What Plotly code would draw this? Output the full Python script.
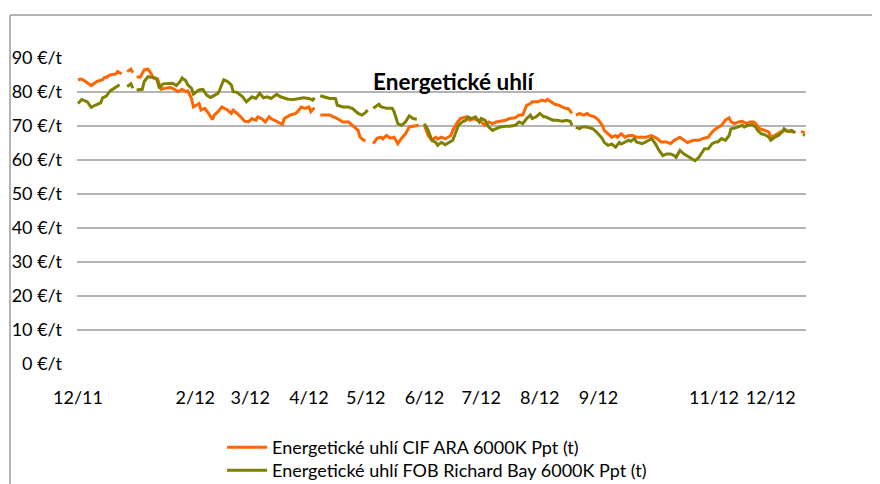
import plotly.graph_objects as go
import pandas as pd

START = pd.Timestamp("2011-12-01")

# Energetické uhlí CIF ARA 6000K Ppt (t) — days since START, value in €/t (None = missing)
cif_days = [0, 2, 4, 7, 10, 13, 14, 15, 17, 20, 21, 23, 25, 26, 28, 29, 30, 31, 33, 35,
            37, 38, 40, 42, 44, 46, 49, 51, 53, 55, 57, 58, 60, 61, 64, 65, 67, 69, 71, 72,
            74, 76, 79, 81, 82, 84, 86, 88, 90, 92, 94, 95, 97, 99, 101, 102, 104, 106, 108, 109,
            112, 115, 116, 118, 120, 122, 123, 124, 125, 127, 128, 130, 133, 135, 137, 140, 143, 145, 146, 148,
            149, 151, 152, 154, 156, 158, 160, 161, 163, 165, 167, 169, 171, 173, 174, 175, 177, 180, 182, 183,
            185, 187, 189, 190, 192, 194, 197, 198, 200, 202, 204, 205, 207, 209, 211, 213, 215, 217, 219, 221,
            223, 226, 228, 231, 233, 235, 237, 239, 240, 243, 245, 247, 248, 250, 252, 254, 256, 257, 259, 261,
            262, 263, 265, 267, 269, 270, 273, 275, 277, 278, 280, 282, 284, 285, 287, 289, 291, 293, 295, 298,
            300, 303, 306, 308, 311, 313, 315, 318, 320, 322, 325, 328, 330, 333, 335, 337, 340, 342, 344, 345,
            347, 349, 351, 353, 355, 357, 358, 360, 363, 365, 366, 368, 371, 373, 376, 378, 380, 382, 384]
cif_vals = [83.6, 83.8, 83.1, 81.9, 83.1, 83.6, 84.3, 84.3, 85.0, 85.3, 86.0, 85.3, None, 86.0, 86.7, 85.7, None, 84.4, 84.4, 86.5,
            86.7, 86.0, 84.1, 83.9, 80.8, 81.1, 81.3, 80.8, 80.1, 80.8, 80.1, 80.3, 78.1, 75.6, 76.6, 74.7, 75.2, 73.7, 71.9, 73.2,
            74.2, 75.6, 74.7, 73.7, 74.7, 73.7, 72.7, 71.4, 71.2, 72.2, 71.7, 72.7, 72.2, 71.2, 72.7, 72.2, 71.7, 71.2, 70.5, 72.2,
            73.2, 73.7, 74.2, 75.6, 75.2, 75.6, 74.2, 74.9, 75.3, None, 73.2, 73.2, 73.2, 72.7, 72.2, 71.2, 71.2, 70.2, 69.7, 68.7,
            66.7, 65.8, 65.8, None, 64.8, 66.4, 66.7, 66.2, 67.2, 66.4, 66.7, 64.8, 66.4, 67.7, 68.7, 69.7, 69.9, 70.2, None, 70.2,
            67.2, 65.8, 66.7, 66.2, 66.7, 66.2, 67.2, 68.7, 70.7, 72.2, 72.4, 72.7, 71.7, 72.2, 71.7, 71.2, 70.2, 71.2, 70.7, 71.2,
            71.4, 71.7, 72.2, 72.4, 73.2, 73.2, 76.1, 76.6, 77.1, 77.1, 77.6, 77.3, 77.8, 77.1, 76.4, 76.1, 75.6, 75.3, 75.1, 73.7,
            None, 73.2, 73.7, 73.2, 73.7, 73.2, 72.7, 71.7, 70.2, 68.7, 67.7, 66.7, 67.2, 66.7, 67.7, 66.7, 67.2, 67.2, 66.7, 66.7,
            66.7, 67.2, 66.3, 65.3, 65.3, 64.8, 65.8, 66.7, 65.8, 65.1, 65.8, 65.8, 66.3, 66.7, 68.2, 69.2, 70.2, 71.7, 72.4, 71.2,
            70.7, 71.2, 71.4, 70.7, 71.2, 71.2, 70.7, 69.2, 68.7, 68.2, 66.7, 67.2, 68.2, 68.7, 68.4, 68.2, None, 68.4, 68.0]

# Energetické uhlí FOB Richard Bay 6000K Ppt (t)
fob_days = [0, 2, 5, 7, 9, 12, 13, 15, 17, 20, 22, 24, 26, 28, 29, 30, 31, 34, 35, 37,
            39, 41, 42, 43, 45, 48, 50, 52, 54, 55, 57, 58, 60, 61, 64, 66, 68, 70, 72, 74,
            75, 77, 79, 81, 82, 84, 87, 89, 90, 92, 94, 95, 96, 98, 100, 102, 103, 105, 107, 109,
            111, 114, 117, 119, 122, 124, 125, 127, 128, 130, 133, 136, 137, 140, 143, 144, 145, 146, 148, 150,
            152, 153, 154, 156, 159, 160, 163, 166, 167, 169, 171, 173, 174, 175, 177, 179, 181, 183, 185, 187,
            189, 190, 192, 194, 196, 198, 199, 201, 203, 205, 206, 208, 210, 212, 213, 215, 217, 219, 221, 223,
            226, 228, 231, 233, 235, 237, 239, 240, 242, 244, 246, 247, 249, 251, 253, 256, 258, 260, 261, 262,
            263, 265, 266, 269, 272, 274, 277, 278, 280, 282, 284, 286, 287, 289, 291, 292, 294, 295, 298, 300,
            303, 305, 307, 309, 311, 313, 315, 316, 318, 320, 323, 324, 326, 328, 330, 331, 333, 335, 337, 338,
            340, 342, 344, 345, 347, 349, 351, 352, 354, 356, 358, 359, 361, 363, 365, 366, 368, 370, 372, 373,
            375, 377, 379, 381, 383, 384]
fob_vals = [76.6, 77.8, 77.1, 75.5, 76.1, 76.8, 78.3, 78.8, 80.3, 81.4, 82.1, None, 81.6, 82.4, 81.1, None, 80.6, 80.8, 83.1, 84.5,
            84.3, 84.1, 83.2, 81.1, 82.4, 82.6, 82.6, 81.9, 83.1, 84.1, 83.3, 82.1, 81.1, 79.4, 80.6, 80.8, 79.1, 78.4, 79.1, 79.6,
            80.8, 83.6, 83.1, 82.1, 80.1, 79.9, 78.6, 77.1, 77.6, 78.6, 78.1, 78.9, 79.6, 78.3, 78.6, 78.1, 78.6, 79.3, 78.6, 78.3,
            77.9, 77.8, 78.1, 78.3, 78.1, 77.6, 78.3, None, 78.9, 78.6, 78.1, 78.1, 76.1, 75.6, 75.6, 75.3, 75.2, 74.7, 73.7, 73.2,
            74.0, 74.7, None, 75.2, 76.4, 75.7, 75.2, 75.2, 74.2, 70.7, 70.2, 71.2, 72.2, 73.0, 72.2, 72.0, None, 70.7, 68.7, 65.8,
            65.2, 64.3, 65.2, 64.5, 65.1, 65.8, 67.2, 70.2, 71.2, 71.7, 72.7, 72.2, 72.7, 71.2, 72.2, 71.7, 69.7, 68.7, 69.2, 69.7,
            69.9, 69.9, 70.2, 71.2, 70.7, 72.2, 73.2, 72.2, 72.7, 73.7, 72.7, 72.7, 72.2, 71.7, 71.7, 71.4, 71.7, 71.4, 70.2, None,
            69.7, 69.2, 69.7, 69.7, 69.2, 68.2, 66.3, 65.2, 64.3, 64.7, 63.8, 65.2, 64.7, 65.2, 65.8, 65.5, 66.3, 65.3, 64.8, 65.3,
            66.3, 64.8, 62.8, 61.3, 61.8, 61.8, 61.3, 60.8, 62.8, 61.8, 60.8, 60.3, 59.8, 60.8, 62.3, 63.3, 63.3, 64.8, 65.3, 65.3,
            66.3, 65.8, 67.2, 69.2, 69.4, 69.7, 70.2, 69.7, 70.2, 70.4, 69.7, 68.7, 67.7, 67.4, 66.7, 65.8, 66.7, 67.2, 68.2, 69.2,
            68.4, 68.7, 68.0, None, 67.5, 67.2]

tick_dates = ["2011-12-01", "2012-02-01", "2012-03-01", "2012-04-01", "2012-05-01", "2012-06-01",
              "2012-07-01", "2012-08-01", "2012-09-01", "2012-11-01", "2012-12-01"]
tick_labels = ["12/11", "2/12", "3/12", "4/12", "5/12", "6/12", "7/12", "8/12", "9/12", "11/12", "12/12"]
y_ticks = [0, 10, 20, 30, 40, 50, 60, 70, 80, 90]
y_labels = [f"{v} €/t" for v in y_ticks]

series_names = ["Energetické uhlí CIF ARA 6000K Ppt (t)", "Energetické uhlí FOB Richard Bay 6000K Ppt (t)"]
title_text = "Energetické uhlí"

cif_x = START + pd.to_timedelta(cif_days, unit="D")
fob_x = START + pd.to_timedelta(fob_days, unit="D")

FONT = "Lato"
fig = go.Figure()
fig.add_trace(go.Scatter(x=cif_x, y=cif_vals, mode="lines", name=series_names[0],
                         line=dict(color="#FF6600", width=3), connectgaps=False, legend="legend"))
fig.add_trace(go.Scatter(x=fob_x, y=fob_vals, mode="lines", name=series_names[1],
                         line=dict(color="#7F8000", width=3), connectgaps=False, legend="legend2"))

legend_style = dict(xanchor="left", yanchor="top", bgcolor="rgba(0,0,0,0)",
                    font=dict(family=FONT, size=18), itemwidth=40)

fig.update_layout(
    width=880, height=484,
    margin=dict(l=69, r=82, t=50, b=128, autoexpand=False),
    paper_bgcolor="white", plot_bgcolor="white",
    font=dict(family=FONT, size=18, color="#000000"),
    showlegend=True,
    legend=dict(x=0.199, y=-0.2124, **legend_style),
    legend2=dict(x=0.199, y=-0.2876, **legend_style),
    xaxis=dict(type="date",
               range=[START - pd.Timedelta(hours=12), START + pd.Timedelta(days=384.6)],
               tickmode="array", tickvals=tick_dates, ticktext=tick_labels,
               showgrid=False, zeroline=False, showline=False, ticks="",
               ticklabelstandoff=21, tickfont=dict(family=FONT, size=18)),
    yaxis=dict(range=[0, 90], tickmode="array", tickvals=y_ticks, ticktext=y_labels,
               showgrid=True, gridcolor="#B4B4B4", gridwidth=1.5,
               zeroline=False, showline=False, ticks="",
               ticklabelstandoff=14, tickfont=dict(family=FONT, size=18)),
    annotations=[dict(text="<b>" + title_text + "</b>", xref="paper", yref="paper",
                      x=0.5165, y=0.9216, xanchor="center", yanchor="middle", showarrow=False,
                      font=dict(family=FONT, size=22.5, color="#000000"))],
    shapes=[
        dict(type="line", xref="paper", yref="paper", x0=-0.0919, x1=-0.0919, y0=1.1405, y1=-0.45,
             line=dict(color="#B4B4B4", width=2)),
        dict(type="line", xref="paper", yref="paper", x0=-0.0919, x1=1.13, y0=1.1405, y1=1.1405,
             line=dict(color="#B4B4B4", width=2)),
    ],
)

fig.write_html("out.html")
